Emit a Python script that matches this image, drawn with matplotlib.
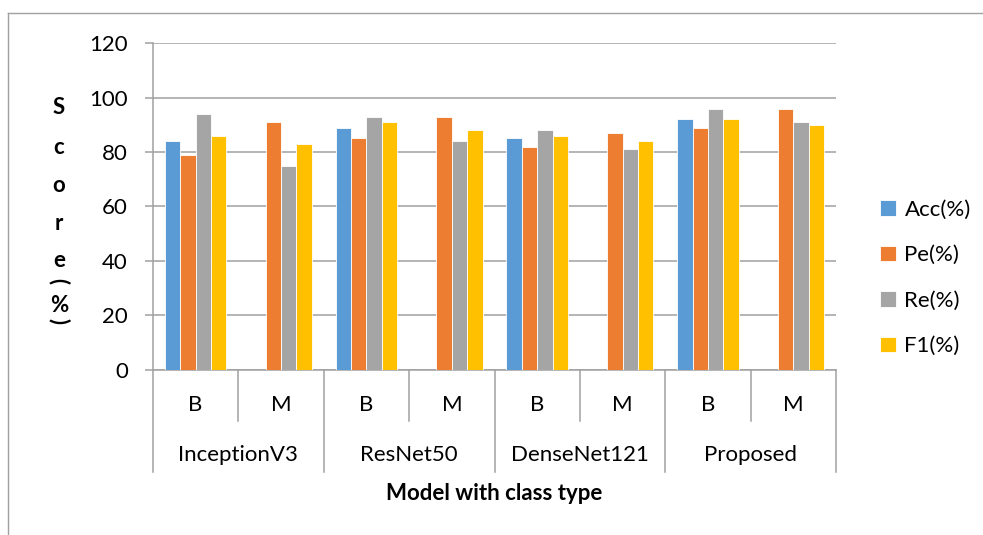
import numpy as np
import matplotlib
matplotlib.use("Agg")
import matplotlib.pyplot as plt
from matplotlib.lines import Line2D

plt.rcParams['font.family'] = ['Lato', 'DejaVu Sans']

# data
models = ["InceptionV3", "ResNet50", "DenseNet121", "Proposed"]
classes = ["B", "M"]
series = ["Acc(%)", "Pe(%)", "Re(%)", "F1(%)"]
acc = [84, None, 89, None, 85, None, 92, None]
pe = [79, 91, 85, 93, 82, 87, 89, 96]
re = [94, 75, 93, 84, 88, 81, 96, 91]
f1 = [86, 83, 91, 88, 86, 84, 92, 90]
colors = ["#5B9BD5", "#ED7D31", "#A5A5A5", "#FFC000"]

W, H = 983, 535
fig = plt.figure(figsize=(W / 100, H / 100), dpi=100)
ax = fig.add_axes([153 / W, 1 - 369.5 / H, (836 - 153) / W, (369.5 - 43.3) / H])

n = len(models) * len(classes)
x = np.arange(n)
bw = 0.18
grey = "#A0A0A0"
handles = []
for i, (vals, c, name) in enumerate(zip([acc, pe, re, f1], colors, series)):
    xs = [xi + (i - 1.5) * bw for xi, v in zip(x, vals) if v is not None]
    ys = [v for v in vals if v is not None]
    b = ax.bar(xs, ys, width=bw, color=c, edgecolor="white", linewidth=0.6,
               label=name, zorder=3)
    handles.append(b)

ax.set_xlim(-0.5, n - 0.5)
ax.set_ylim(0, 120)
ax.set_yticks(range(0, 121, 20))
ax.yaxis.grid(True, color=grey, linewidth=1.1, zorder=0)
ax.tick_params(axis="y", length=6, width=1.1, color=grey, pad=12, labelsize=16)
ax.set_xticks([])
for s in ["top", "right"]:
    ax.spines[s].set_visible(False)
for s in ["left", "bottom"]:
    ax.spines[s].set_color(grey)
    ax.spines[s].set_linewidth(1.1)

# hierarchical category axis
tr = ax.get_xaxis_transform()
for k in range(n + 1):
    xb = k - 0.5
    bottom = -0.314 if k % 2 == 0 else -0.158
    ax.add_line(Line2D([xb, xb], [0, bottom], transform=tr, color=grey,
                       linewidth=1.1, clip_on=False))
for k in range(n):
    ax.text(x[k], -0.109, classes[k % 2], transform=tr, ha="center",
            va="center", fontsize=16)
for j, m in enumerate(models):
    ax.text(2 * j + 0.5, -0.262, m, transform=tr, ha="center", va="center",
            fontsize=16)
ax.text((n - 1) / 2, -0.379, "Model with class type", transform=tr,
        ha="center", va="center", fontsize=16, fontweight="bold")

# stacked y label
for ch, yy, rot in [("S", 108, 0), ("c", 147, 0), ("o", 186, 0), ("r", 223, 0),
                    ("e", 260, 0), ("(", 281, 270), ("%", 306, 0), (")", 321, 270)]:
    fig.text(59 / W, 1 - yy / H, ch, ha="center", va="center", fontsize=16,
             fontweight="bold", rotation=rot)

ax.legend(handles=handles, loc="center left", bbox_to_anchor=(860 / W, 1 - 278 / H),
          bbox_transform=fig.transFigure, frameon=False, fontsize=16,
          handlelength=0.7, handleheight=0.7, handletextpad=0.4, labelspacing=1.15)

# chart border
fig.add_artist(Line2D([8 / W, 8 / W], [0, 1 - 13 / H], transform=fig.transFigure,
                      color=grey, linewidth=1))
fig.add_artist(Line2D([8 / W, 1], [1 - 13 / H, 1 - 13 / H], transform=fig.transFigure,
                      color=grey, linewidth=1))

fig.savefig("out.png", dpi=100)
